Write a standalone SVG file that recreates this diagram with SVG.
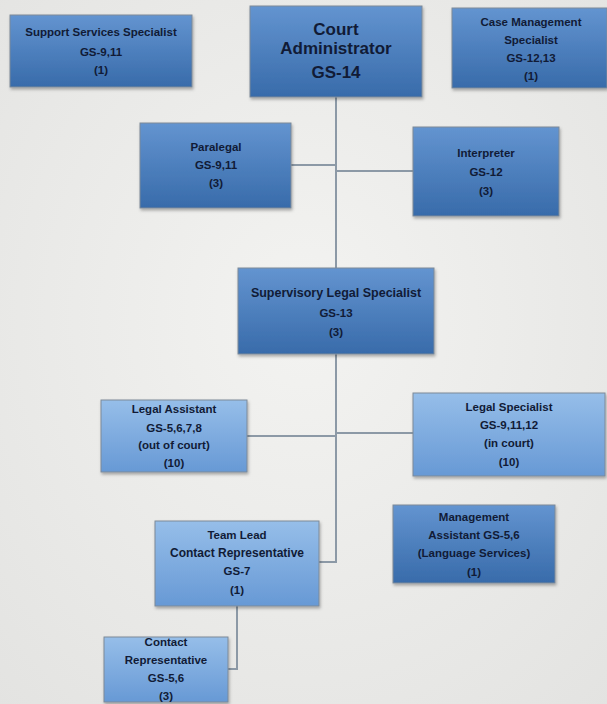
<svg xmlns="http://www.w3.org/2000/svg" width="607" height="704" viewBox="0 0 607 704">
<defs>
<radialGradient id="bg" cx="50%" cy="45%" r="75%">
<stop offset="0" stop-color="#f3f3f1"/>
<stop offset="1" stop-color="#e3e3e1"/>
</radialGradient>
<linearGradient id="dark" x1="0" y1="0" x2="0" y2="1">
<stop offset="0" stop-color="#6394d0"/>
<stop offset="1" stop-color="#386baa"/>
</linearGradient>
<linearGradient id="light" x1="0" y1="0" x2="0" y2="1">
<stop offset="0" stop-color="#96bee9"/>
<stop offset="1" stop-color="#6799d5"/>
</linearGradient>
<filter id="sh" x="-10%" y="-10%" width="120%" height="130%">
<feDropShadow dx="1" dy="2" stdDeviation="1.5" flood-color="#000" flood-opacity="0.3"/>
</filter>
</defs>
<style>
.box{stroke:#7d8a98;stroke-width:1;filter:url(#sh)}
.d{fill:url(#dark)}
.l{fill:url(#light)}
text{font-family:"Liberation Sans",Arial,sans-serif;font-weight:bold;font-size:11.5px;fill:#111b36;text-anchor:middle}
.big{font-size:17px}
.conn{fill:none;stroke:#8c99a6;stroke-width:2}
</style>
<rect width="607" height="704" fill="url(#bg)"/>
<g id="connectors">
<path class="conn" d="M336 97 V562 H319"/>
<path class="conn" d="M291 165 H336"/>
<path class="conn" d="M336 171 H413"/>
<path class="conn" d="M247 436 H336"/>
<path class="conn" d="M336 433 H413"/>
<path class="conn" d="M237 606 V669 H228"/>
</g>
<g id="support-services">
<rect class="box d" x="10" y="15" width="182" height="72"/>
<text x="101" y="36">Support Services Specialist</text>
<text x="101" y="56">GS-9,11</text>
<text x="101" y="74">(1)</text>
</g>
<g id="court-administrator">
<rect class="box d" x="250" y="6" width="172" height="91"/>
<text class="big" x="336" y="35">Court</text>
<text class="big" x="336" y="54">Administrator</text>
<text class="big" x="336" y="78">GS-14</text>
</g>
<g id="case-management">
<rect class="box d" x="452" y="8" width="155" height="80"/>
<text x="531" y="26">Case Management</text>
<text x="531" y="44">Specialist</text>
<text x="531" y="62">GS-12,13</text>
<text x="531" y="80">(1)</text>
</g>
<g id="paralegal">
<rect class="box d" x="140" y="123" width="151" height="85"/>
<text x="216" y="151">Paralegal</text>
<text x="216" y="169">GS-9,11</text>
<text x="216" y="187">(3)</text>
</g>
<g id="interpreter">
<rect class="box d" x="413" y="127" width="146" height="89"/>
<text x="486" y="157">Interpreter</text>
<text x="486" y="176">GS-12</text>
<text x="486" y="195">(3)</text>
</g>
<g id="supervisory-legal-specialist">
<rect class="box d" x="238" y="268" width="196" height="86"/>
<text x="336" y="297" style="font-size:12.5px">Supervisory Legal Specialist</text>
<text x="336" y="317">GS-13</text>
<text x="336" y="336">(3)</text>
</g>
<g id="legal-assistant">
<rect class="box l" x="101" y="400" width="146" height="72"/>
<text x="174" y="413">Legal Assistant</text>
<text x="174" y="432">GS-5,6,7,8</text>
<text x="174" y="449">(out of court)</text>
<text x="174" y="467">(10)</text>
</g>
<g id="legal-specialist">
<rect class="box l" x="413" y="393" width="192" height="83"/>
<text x="509" y="411">Legal Specialist</text>
<text x="509" y="429">GS-9,11,12</text>
<text x="509" y="447">(in court)</text>
<text x="509" y="466">(10)</text>
</g>
<g id="team-lead">
<rect class="box l" x="155" y="521" width="164" height="85"/>
<text x="237" y="539">Team Lead</text>
<text x="237" y="557" style="font-size:12px">Contact Representative</text>
<text x="237" y="575">GS-7</text>
<text x="237" y="594">(1)</text>
</g>
<g id="management-assistant">
<rect class="box d" x="393" y="505" width="162" height="78"/>
<text x="474" y="521">Management</text>
<text x="474" y="539">Assistant GS-5,6</text>
<text x="474" y="557">(Language Services)</text>
<text x="474" y="576">(1)</text>
</g>
<g id="contact-representative">
<rect class="box l" x="104" y="637" width="124" height="65"/>
<text x="166" y="646">Contact</text>
<text x="166" y="664">Representative</text>
<text x="166" y="682">GS-5,6</text>
<text x="166" y="700">(3)</text>
</g>
</svg>
